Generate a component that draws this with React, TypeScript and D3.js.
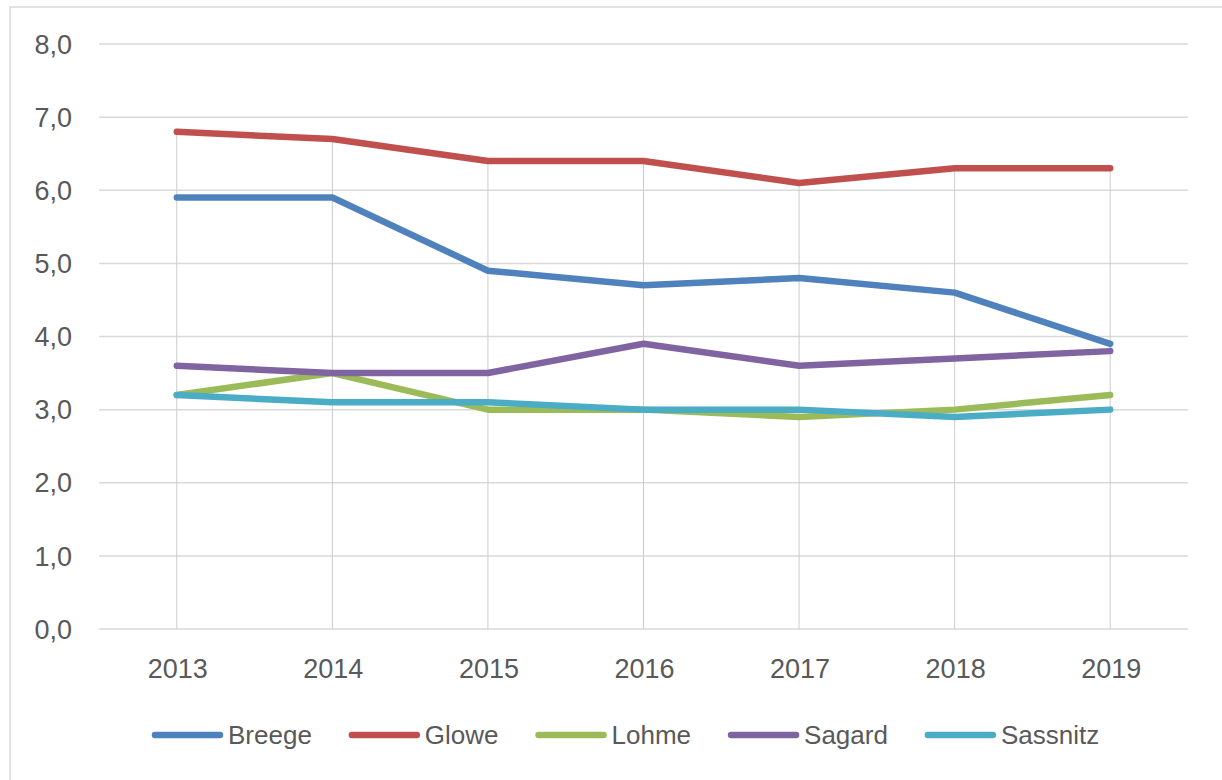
import React, { useEffect, useRef } from "react";
import * as d3 from "d3";

const years = ["2013", "2014", "2015", "2016", "2017", "2018", "2019"];
const seriesNames = ["Breege", "Glowe", "Lohme", "Sagard", "Sassnitz"];
const breege = [5.9, 5.9, 4.9, 4.7, 4.8, 4.6, 3.9];
const glowe = [6.8, 6.7, 6.4, 6.4, 6.1, 6.3, 6.3];
const lohme = [3.2, 3.5, 3.0, 3.0, 2.9, 3.0, 3.2];
const sagard = [3.6, 3.5, 3.5, 3.9, 3.6, 3.7, 3.8];
const sassnitz = [3.2, 3.1, 3.1, 3.0, 3.0, 2.9, 3.0];
const yTicks = [0, 1, 2, 3, 4, 5, 6, 7, 8];
const colors = ["#4F81BD", "#C0504D", "#9BBB59", "#8064A2", "#4BACC6"];

const W = 1222;
const H = 780;
const FONT = "'Liberation Sans', Arial, sans-serif";
const TEXT = "#595959";

export default function App() {
  const ref = useRef<SVGSVGElement | null>(null);

  useEffect(() => {
    const svg = d3.select(ref.current);
    svg.selectAll("*").remove();

    const values = [breege, glowe, lohme, sagard, sassnitz];
    const series = seriesNames.map((name, i) => ({ name, color: colors[i], values: values[i] }));

    const x = d3.scaleBand<string>().domain(years).range([99, 1188]).padding(0);
    const cx = (y: string) => (x(y) as number) + x.bandwidth() / 2;
    const y = d3.scaleLinear().domain([0, 8]).range([629, 44]);

    // chart border
    svg
      .append("rect")
      .attr("x", 10)
      .attr("y", 7)
      .attr("width", 1400)
      .attr("height", 1000)
      .attr("fill", "#fff")
      .attr("stroke", "#d9d9d9")
      .attr("stroke-width", 1.5);

    // gridlines
    svg
      .append("g")
      .selectAll("line")
      .data(yTicks)
      .join("line")
      .attr("x1", 99)
      .attr("x2", 1188)
      .attr("y1", (d) => y(d))
      .attr("y2", (d) => y(d))
      .attr("stroke", "#d9d9d9")
      .attr("stroke-width", 1.5);

    // y labels
    svg
      .append("g")
      .selectAll("text")
      .data(yTicks)
      .join("text")
      .attr("x", 72)
      .attr("y", (d) => y(d))
      .attr("dy", "0.36em")
      .attr("text-anchor", "end")
      .attr("font-family", FONT)
      .attr("font-size", 27)
      .attr("fill", TEXT)
      .text((d) => d3.format(".1f")(d).replace(".", ","));

    // drop lines
    svg
      .append("g")
      .selectAll("line")
      .data(years)
      .join("line")
      .attr("x1", (d) => cx(d))
      .attr("x2", (d) => cx(d))
      .attr("y1", (_d, i) => y(d3.max(values, (v) => v[i]) as number))
      .attr("y2", y(0))
      .attr("stroke", "#cccccc")
      .attr("stroke-width", 1);

    // x labels
    svg
      .append("g")
      .selectAll("text")
      .data(years)
      .join("text")
      .attr("x", (d) => cx(d) + 1)
      .attr("y", 678)
      .attr("text-anchor", "middle")
      .attr("font-family", FONT)
      .attr("font-size", 27)
      .attr("fill", TEXT)
      .text((d) => d);

    // lines
    const line = d3
      .line<number>()
      .x((_d, i) => cx(years[i]))
      .y((d) => y(d));

    svg
      .append("g")
      .selectAll("path")
      .data(series)
      .join("path")
      .attr("d", (s) => line(s.values))
      .attr("fill", "none")
      .attr("stroke", (s) => s.color)
      .attr("stroke-width", 6.5)
      .attr("stroke-linecap", "round")
      .attr("stroke-linejoin", "round");

    // legend
    const lg = svg.append("g");
    let cursor = 155;
    series.forEach((s) => {
      const g = lg.append("g");
      g.append("line")
        .attr("x1", cursor)
        .attr("x2", cursor + 65)
        .attr("y1", 735)
        .attr("y2", 735)
        .attr("stroke", s.color)
        .attr("stroke-width", 6.5)
        .attr("stroke-linecap", "round");
      const t = g
        .append("text")
        .attr("x", cursor + 73)
        .attr("y", 744)
        .attr("font-family", FONT)
        .attr("font-size", 26)
        .attr("fill", TEXT)
        .text(s.name);
      const w = (t.node() as SVGTextElement).getComputedTextLength();
      cursor = cursor + 73 + w + 40;
    });
  }, []);

  return (
    <div style={{ position: "absolute", left: 0, top: 0 }}>
      <svg ref={ref} width={W} height={H} style={{ display: "block" }} />
    </div>
  );
}
